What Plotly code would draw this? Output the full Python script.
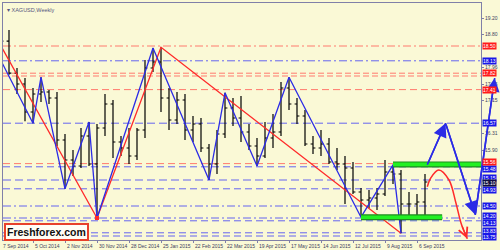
import plotly.graph_objects as go

# ---------------- data ----------------
weeks = ["2014-09-07", "2014-09-14", "2014-09-21", "2014-09-28", "2014-10-05", "2014-10-12",
         "2014-10-19", "2014-10-26", "2014-11-02", "2014-11-09", "2014-11-16", "2014-11-23",
         "2014-11-30", "2014-12-07", "2014-12-14", "2014-12-21", "2014-12-28",
         "2015-01-04", "2015-01-11", "2015-01-18", "2015-01-25", "2015-02-01", "2015-02-08",
         "2015-02-15", "2015-02-22", "2015-03-01", "2015-03-08", "2015-03-15", "2015-03-22",
         "2015-03-29", "2015-04-05", "2015-04-12", "2015-04-19", "2015-04-26", "2015-05-03",
         "2015-05-10", "2015-05-17", "2015-05-24", "2015-05-31", "2015-06-07", "2015-06-14",
         "2015-06-21", "2015-06-28", "2015-07-05", "2015-07-12", "2015-07-19", "2015-07-26",
         "2015-08-02", "2015-08-09", "2015-08-16", "2015-08-23", "2015-08-30", "2015-09-06",
         "2015-09-13"]
opens = [19.15, 18.62, 17.82, 17.55, 16.85, 17.30, 17.35, 17.20, 16.15, 15.65, 15.50, 16.25,
         15.55, 16.45, 17.05, 16.10, 15.95,
         15.75, 16.40, 17.95, 18.10, 17.20, 16.65, 17.15, 16.40, 16.55, 15.95, 15.55, 16.30,
         16.95, 16.70, 16.35, 16.00, 15.75, 16.20, 16.35, 17.45, 17.05, 16.75, 16.05, 15.95,
         16.05, 15.60, 15.55, 15.45, 14.85, 14.65, 14.70, 14.80, 15.35, 15.30, 14.55, 14.55,
         14.60]
highs = [19.25, 18.90, 17.95, 17.70, 17.45, 17.72, 17.40, 17.35, 16.30, 15.90, 16.45, 16.60,
         16.55, 17.30, 17.15, 16.25, 16.45,
         16.45, 18.15, 18.45, 18.47, 17.45, 17.35, 17.30, 16.75, 16.70, 16.05, 16.40, 17.33,
         17.20, 17.25, 16.55, 16.20, 16.60, 16.80, 17.60, 17.72, 17.20, 16.90, 16.25, 16.40,
         16.20, 15.95, 15.75, 15.60, 14.95, 14.90, 14.95, 15.65, 15.53, 15.40, 14.85, 14.80,
         15.30]
lows = [18.55, 17.78, 17.30, 16.62, 16.57, 17.10, 17.05, 16.00, 14.93, 15.25, 15.45, 15.50,
        14.20, 16.25, 15.70, 15.75, 15.55,
        15.65, 16.20, 17.85, 16.85, 16.40, 16.55, 16.15, 16.10, 15.85, 15.15, 15.30, 16.20,
        16.50, 16.10, 15.90, 15.50, 15.70, 15.95, 16.25, 16.90, 16.55, 16.00, 15.80, 15.75,
        15.55, 15.40, 14.55, 14.80, 14.22, 14.45, 14.40, 14.75, 15.05, 13.82, 14.25, 14.25,
        14.20]
closes = [18.62, 17.82, 17.55, 16.85, 17.30, 17.35, 17.20, 16.15, 15.65, 15.50, 16.25, 15.55,
          16.45, 17.05, 16.10, 15.95, 15.75,
          16.40, 17.95, 18.10, 17.20, 16.65, 17.15, 16.40, 16.55, 15.95, 15.55, 16.30, 16.95,
          16.70, 16.35, 16.00, 15.75, 16.20, 16.35, 17.45, 17.05, 16.75, 16.05, 15.95, 16.05,
          15.60, 15.55, 15.45, 14.85, 14.65, 14.70, 14.80, 15.35, 15.30, 14.55, 14.55, 14.60,
          15.10]

blue_zz_dates = ["2014-09-07", "2014-10-05", "2014-10-12", "2014-11-02", "2014-11-23", "2014-11-30",
                 "2015-01-18", "2015-03-08", "2015-03-22", "2015-04-19", "2015-05-17", "2015-07-19",
                 "2015-08-16", "2015-08-23"]
blue_zz_prices = [18.13, 16.57, 17.72, 14.93, 16.60, 14.20, 18.45, 15.15, 17.33, 15.50, 17.72, 14.22,
                  15.53, 13.82]

red_zz_dates = ["2014-09-07", "2014-11-30", "2015-01-25", "2015-08-23"]
red_zz_prices = [18.50, 14.20, 18.47, 13.82]

red_levels = [18.50, 17.82, 17.75, 17.41, 15.56]
red_dashes = ["8px,3px,2px,3px", "6px,3px", "6px,3px", "7px,4px", "7px,4px"]
red_labels = ["18.50", "17.82", "", "17.41", "15.56"]
red_label_shift = [0, 0, 0, 0, 2]

blue_levels = [18.13, 16.57, 15.48, 15.15, 14.93, 14.50, 14.20, 14.13, 13.83, 13.75]
blue_dashes = ["8px,3px,2px,3px", "8px,4px", "7px,4px", "8px,4px", "7px,4px",
               "8px,3px,2px,3px", "8px,3px,2px,3px", "7px,4px", "7px,4px", "7px,4px"]
blue_labels = ["18.13", "16.57", "15.48", "15.15", "14.93", "14.50", "14.20", "14.13", "13.83", "13.75"]
blue_label_shift = [0, 0, -2, 2, -1, 0, 2, -2, 2, -1]

green_upper_dates = ["2015-08-16", "2015-11-01"]
green_upper_price = 15.54
green_lower_dates = ["2015-07-19", "2015-09-28"]
green_lower_price = 14.22

blue_proj_dates = ["2015-09-15", "2015-10-01", "2015-10-27", "2015-11-13"]
blue_proj_prices = [15.53, 16.57, 14.28, 17.70]

red_proj_dates = ["2015-09-15", "2015-09-18", "2015-09-25", "2015-10-04", "2015-10-10", "2015-10-15", "2015-10-20"]
red_proj_prices = [14.98, 15.20, 15.40, 15.15, 14.58, 14.03, 13.68]

y_ticks = [19.20, 18.80, 17.96, 17.55, 17.15, 16.31, 15.90]
x_tick_dates = ["2014-10-05", "2014-11-02", "2014-11-30", "2014-12-28", "2015-01-25", "2015-02-22",
                "2015-03-22", "2015-04-19", "2015-05-17", "2015-06-14", "2015-07-12", "2015-08-09",
                "2015-09-06"]
x_tick_text = ["5 Oct 2014", "2 Nov 2014", "30 Nov 2014", "28 Dec 2014", "25 Jan 2015", "22 Feb 2015",
               "22 Mar 2015", "19 Apr 2015", "17 May 2015", "14 Jun 2015", "12 Jul 2015", "9 Aug 2015",
               "6 Sep 2015"]
first_label = "7 Sep 2014"
last_price = closes[-1]

# ---------------- style ----------------
BG = "#FAF9D6"
RED_LVL = "#FF7A6E"
BLUE_LVL = "#6464F0"
BLUE = "#2B2BE6"
RED = "#FF2A2A"
FONT = "Liberation Sans"
TXT = "#404060"
X0, X1 = "2014-09-08 18:00", "2015-11-01 00:00"
X2_END = "2015-11-17 15:00"
YR = [13.65, 19.575]
DOM = 478 / 497

fig = go.Figure()

# horizontal levels
for lv, d in zip(red_levels, red_dashes):
    fig.add_shape(type="line", xref="x domain", yref="y", x0=0, x1=1, y0=lv, y1=lv,
                  line=dict(color=RED_LVL, width=1, dash=d), layer="below")
for lv, d in zip(blue_levels, blue_dashes):
    fig.add_shape(type="line", xref="x domain", yref="y", x0=0, x1=1, y0=lv, y1=lv,
                  line=dict(color=BLUE_LVL, width=1, dash=d), layer="below")

# bars
fig.add_trace(go.Ohlc(x=weeks, open=opens, high=highs, low=lows, close=closes,
                      increasing=dict(line=dict(color="black", width=1.2)),
                      decreasing=dict(line=dict(color="black", width=1.2)),
                      tickwidth=0.3, hoverinfo="skip", showlegend=False))

# zigzags
fig.add_trace(go.Scatter(x=red_zz_dates, y=red_zz_prices, mode="lines",
                         line=dict(color=RED, width=1.3), hoverinfo="skip", showlegend=False))
fig.add_trace(go.Scatter(x=blue_zz_dates, y=blue_zz_prices, mode="lines",
                         line=dict(color=BLUE, width=1.3), hoverinfo="skip", showlegend=False))
fig.add_trace(go.Scatter(x=red_zz_dates[1:2], y=red_zz_prices[1:2], mode="markers",
                         marker=dict(symbol="square", size=4, color=RED), hoverinfo="skip", showlegend=False))

# green support / resistance bars
for dts, pr in ((green_upper_dates, green_upper_price), (green_lower_dates, green_lower_price)):
    fig.add_trace(go.Scatter(x=dts, y=[pr, pr], mode="lines", line=dict(color="#1E8C1E", width=6),
                             hoverinfo="skip", showlegend=False))
    fig.add_trace(go.Scatter(x=dts, y=[pr, pr], mode="lines", line=dict(color="#22F022", width=3.6),
                             hoverinfo="skip", showlegend=False))

# projections on the full-width overlay subplot
fig.add_trace(go.Scatter(x=red_proj_dates, y=red_proj_prices, mode="lines", xaxis="x2", yaxis="y2",
                         line=dict(color=RED, width=1.5, shape="spline", smoothing=1.0),
                         hoverinfo="skip", showlegend=False))
fig.add_trace(go.Scatter(x=blue_proj_dates, y=blue_proj_prices, mode="lines", xaxis="x2", yaxis="y2",
                         line=dict(color=BLUE, width=1.6), hoverinfo="skip", showlegend=False))
for i in range(1, len(blue_proj_dates)):
    fig.add_annotation(x=blue_proj_dates[i], y=blue_proj_prices[i], ax=blue_proj_dates[i - 1],
                       ay=blue_proj_prices[i - 1], xref="x2", yref="y2", axref="x2", ayref="y2",
                       text="", showarrow=True, arrowhead=2, arrowsize=1.7, arrowwidth=1.6,
                       arrowcolor=BLUE, standoff=0)
fig.add_annotation(x=red_proj_dates[-1], y=red_proj_prices[-1], ax=red_proj_dates[-2],
                   ay=red_proj_prices[-2], xref="x2", yref="y2", axref="x2", ayref="y2",
                   text="", showarrow=True, arrowhead=5, arrowsize=1.4, arrowwidth=1.3,
                   arrowcolor=RED, standoff=0)

# price labels at right
def price_label(val, txt, color, shift=0):
    if not txt:
        return
    fig.add_annotation(x=DOM, xref="paper", y=val, yref="y", xanchor="left", yanchor="middle",
                       xshift=1, yshift=shift, text=txt, showarrow=False, bgcolor=color, borderpad=0,
                       font=dict(family=FONT, size=5, color="white"))

for lv, t, s in zip(blue_levels, blue_labels, blue_label_shift):
    price_label(lv, t, "#1818E8", s)
for lv, t, s in zip(red_levels, red_labels, red_label_shift):
    price_label(lv, t, "#FF1A1A", s)
price_label(last_price, f"{last_price:.2f}", "#101040", -1)

# date labels (left-aligned at their tick, as in the terminal)
for d, t in zip(x_tick_dates, x_tick_text):
    fig.add_annotation(x=d, xref="x", y=0, yref="paper", xanchor="left", yanchor="top",
                       xshift=0, yshift=-1, text=t, showarrow=False,
                       font=dict(family=FONT, size=5, color=TXT))
fig.add_annotation(x=0, y=0, xref="paper", yref="paper", xanchor="left", yanchor="top", xshift=-2, yshift=-1,
                   text=first_label, showarrow=False, font=dict(family=FONT, size=5, color=TXT))

# title and logo
fig.add_annotation(x=0, y=1, xref="paper", yref="paper", xanchor="left", yanchor="top", xshift=2, yshift=-2,
                   text="▾ XAGUSD,Weekly", showarrow=False, font=dict(family=FONT, size=5.5, color="#555580"))
fig.add_annotation(x=0, y=0, xref="paper", yref="paper", xanchor="left", yanchor="bottom", xshift=1, yshift=-1,
                   text="<b>Freshforex.com</b>", showarrow=False, bgcolor="#FFFDF5",
                   bordercolor="#E8402A", borderwidth=2, borderpad=1,
                   font=dict(family=FONT, size=10.5, color="#111111"))

fig.update_layout(
    width=500, height=250, margin=dict(l=3, r=0, t=3, b=10, autoexpand=False),
    paper_bgcolor=BG, plot_bgcolor="rgba(0,0,0,0)", showlegend=False,
    xaxis=dict(type="date", range=[X0, X1], domain=[0, DOM], rangeslider=dict(visible=False),
               automargin=False,
               showgrid=False, zeroline=False, showline=True, mirror=True, linecolor="#8080A8",
               linewidth=1, ticks="outside", ticklen=2, tickcolor="#8080A8",
               tickvals=x_tick_dates, showticklabels=False),
    yaxis=dict(range=YR, side="right", showgrid=False, zeroline=False, showline=True, mirror=True,
               automargin=False,
               linecolor="#8080A8", linewidth=1, ticks="outside", ticklen=2, tickcolor="#8080A8",
               tickvals=y_ticks, ticktext=[f"{v:.2f}" for v in y_ticks],
               tickfont=dict(family=FONT, size=5, color=TXT)),
    xaxis2=dict(type="date", range=[X0, X2_END], domain=[0, 1], anchor="y2", visible=False,
                automargin=False),
    yaxis2=dict(range=YR, anchor="x2", visible=False, automargin=False),
)

fig.write_html("out.html")
